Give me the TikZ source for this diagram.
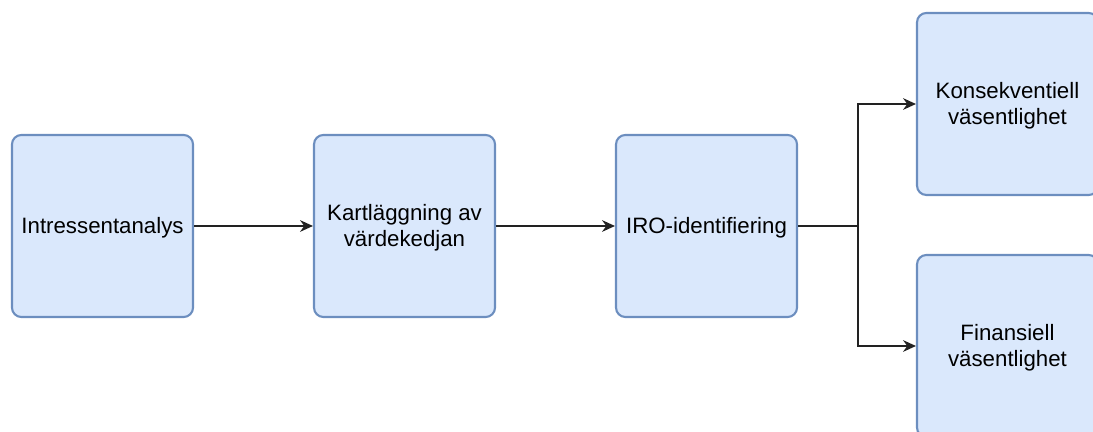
\documentclass[tikz,border=0pt]{standalone}
\usepackage{fontspec}
\setmainfont{Liberation Sans}
\usepackage{tikz}
\usetikzlibrary{arrows.meta}
\definecolor{boxfill}{HTML}{DAE8FC}
\definecolor{boxline}{HTML}{6C8EBF}
\definecolor{arrowline}{HTML}{222222}

\begin{document}
\begin{tikzpicture}[x=0.03cm,y=-0.03cm,
    stage/.style={draw=boxline,fill=boxfill,line width=1.8pt,rounded corners=8pt,
      minimum width=5.43cm,minimum height=5.46cm,align=center,inner sep=2pt,
      font=\fontsize{19}{23}\selectfont,text depth=1pt},
    flow/.style={draw=arrowline,line width=1.5pt,-{Stealth[length=11pt,width=10pt]}}]
    \useasboundingbox (0,0) rectangle (1093,432);
    \clip (0,0) rectangle (1093,432);

    \node[stage] (intressent) at (102.5,226) {Intressentanalys};
    \node[stage] (kartlagg) at (404.5,226) {Kartläggning av\\värdekedjan};
    \node[stage] (iro) at (706.5,226) {IRO-identifiering};
    \node[stage] (konsek) at (1007.5,104) {Konsekventiell\\väsentlighet};
    \node[stage] (finans) at (1007.5,346) {Finansiell\\väsentlighet};

    \coordinate (fork) at (858,226);

    \draw[flow] (intressent) -- (kartlagg);
    \draw[flow] (kartlagg) -- (iro);
    \draw[draw=arrowline,line width=1.5pt] (iro) -- (fork);
    \draw[flow] (fork) |- (konsek);
    \draw[flow] (fork) |- (finans);
\end{tikzpicture}
\end{document}
